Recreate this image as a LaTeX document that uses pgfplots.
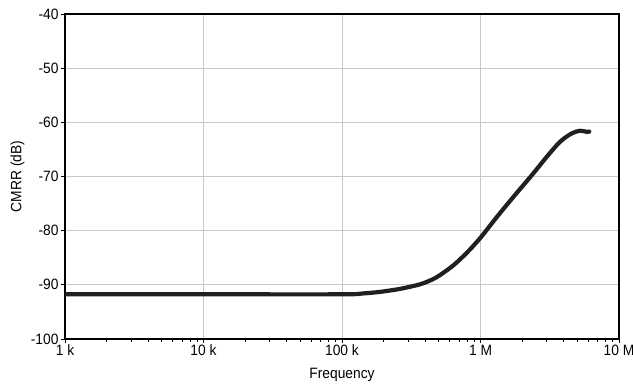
\documentclass[border=0pt]{standalone}
\usepackage{fontspec}
\setmainfont{Liberation Sans}[FakeStretch=0.92]
\usepackage{pgfplots}
\pgfplotsset{compat=1.18}
\definecolor{gridgray}{RGB}{200,200,200}
\definecolor{curve}{RGB}{35,31,32}
\begin{document}
\begin{tikzpicture}
\begin{axis}[
  at={(0,0)}, anchor=south west,
  scale only axis,
  width=554bp, height=325bp,
  xmode=log,
  xmin=1e3, xmax=1e7,
  ymin=-100, ymax=-40,
  xtick={1e3,1e4,1e5,1e6,1e7},
  xticklabels={1 k,10 k,100 k,1 M,10 M},
  ytick={-100,-90,-80,-70,-60,-50,-40},
  yticklabels={-100,-90,-80,-70,-60,-50,-40},
  minor xtick={},
  grid=major,
  major grid style={gridgray, line width=0.9bp},
  axis line style={black, line width=1.2bp},
  tick align=outside,
  xtick pos=left, ytick pos=left,
  major tick length=4bp,
  tick style={black, line width=1bp},
  ticklabel style={font=\fontsize{15bp}{17bp}\selectfont},
  yticklabel style={xshift=1bp},
  xticklabel style={yshift=1.5bp},
  label style={font=\fontsize{15bp}{17bp}\selectfont},
  xlabel={Frequency},
  ylabel={CMRR (dB)},
  xlabel style={at={(axis description cs:0.5,0)}, anchor=north, yshift=-26bp},
  ylabel style={at={(axis description cs:0,0.5)}, anchor=south, yshift=37bp},
]
\addplot[curve, line width=4.2bp, line join=round, line cap=round, smooth, tension=0.5] coordinates {
(1000,-91.75)
(10000,-91.75)
(100000,-91.75)
(140000,-91.6)
(188000,-91.3)
(262000,-90.75)
(366000,-89.9)
(450000,-89.0)
(510000,-88.2)
(637000,-86.4)
(795000,-84.1)
(1000000,-81.3)
(1300000,-77.6)
(1730000,-73.75)
(2410000,-69.4)
(3000000,-66.4)
(3750000,-63.6)
(4550000,-62.05)
(5220000,-61.56)
(5850000,-61.75)
(6100000,-61.7)
};
\end{axis}
\pgfresetboundingbox
\useasboundingbox (-65bp,-48bp) rectangle (568bp,339bp);
\end{tikzpicture}
\end{document}
